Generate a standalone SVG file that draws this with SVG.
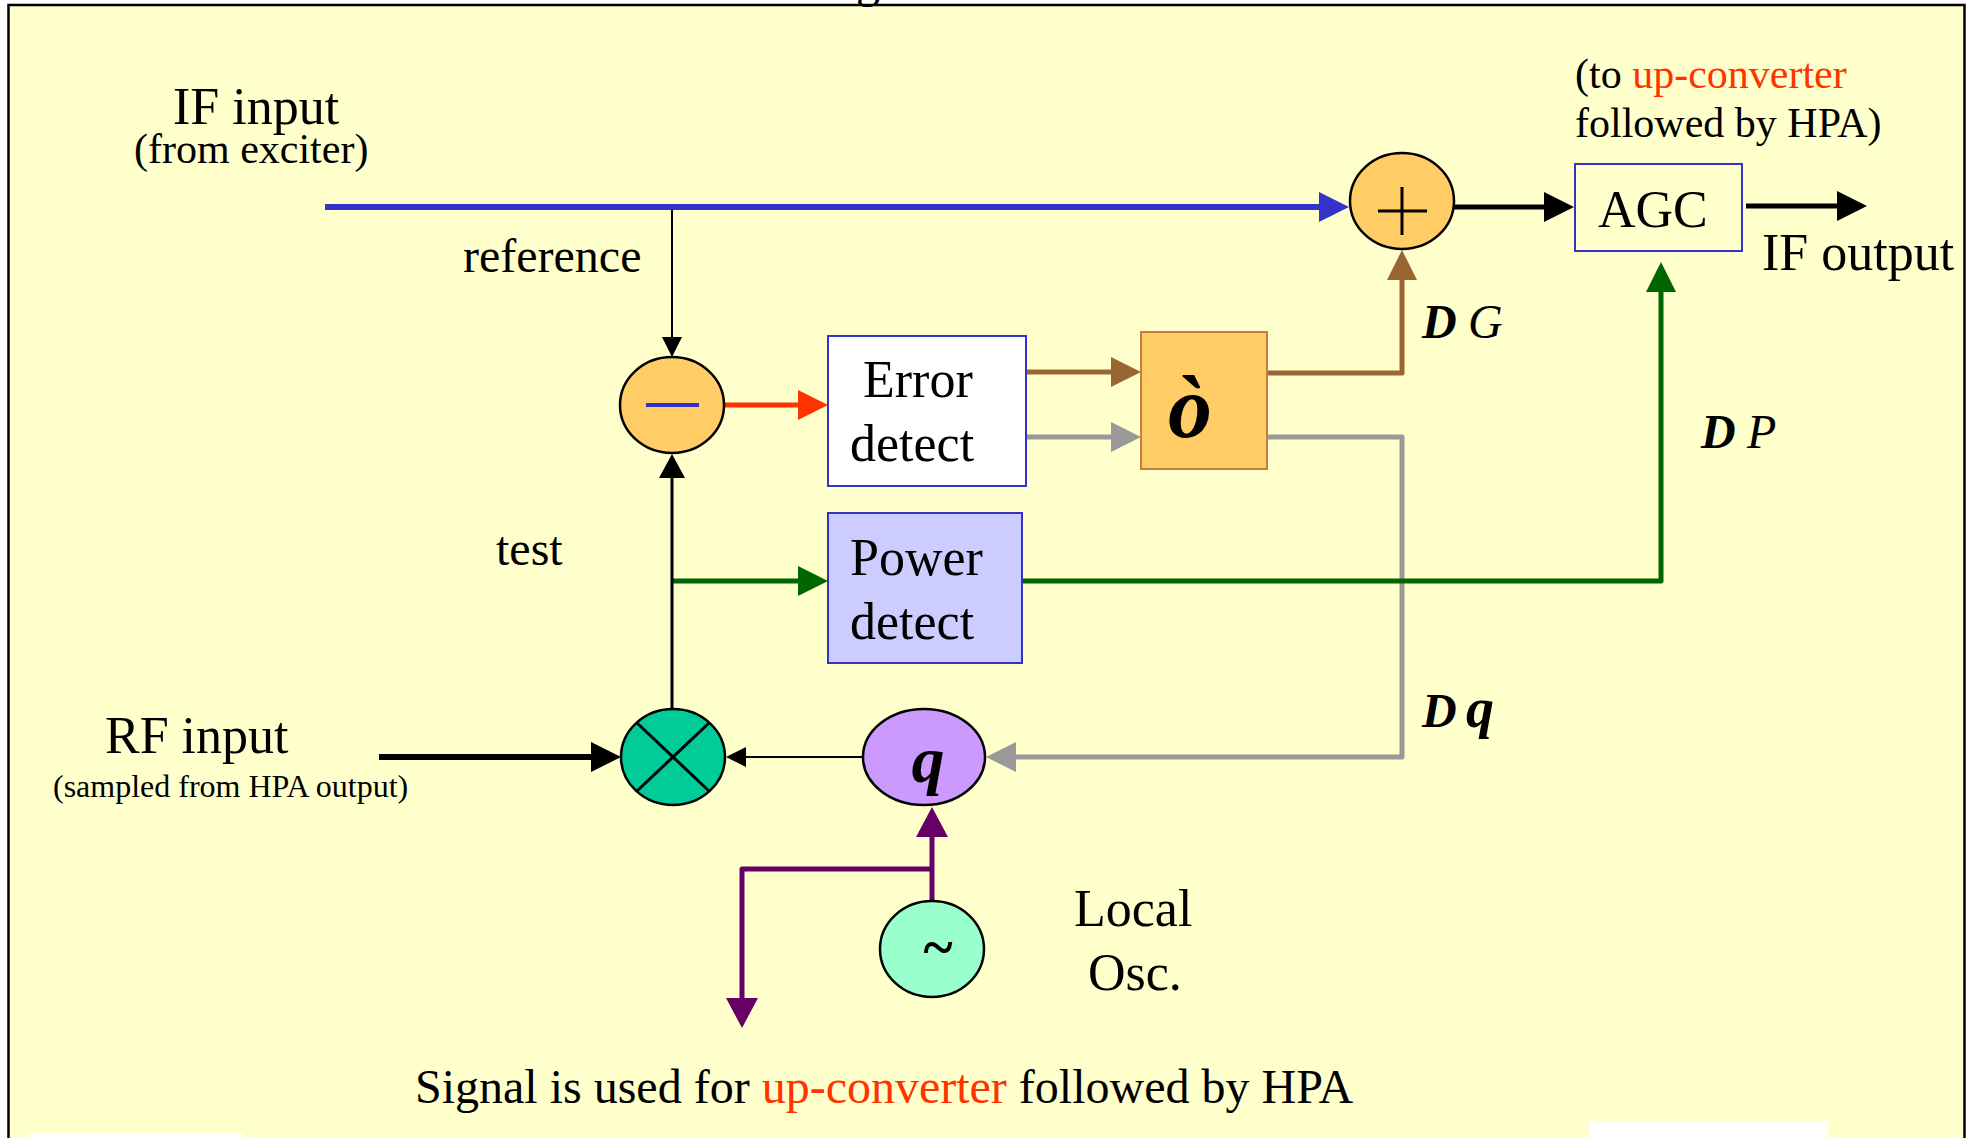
<svg xmlns="http://www.w3.org/2000/svg" width="1978" height="1138" viewBox="0 0 1978 1138">
<style>
text{font-family:"Liberation Serif","Times New Roman",serif;fill:#000}
.t52{font-size:52px}
.t48{font-size:48px}
.t42{font-size:42px}
.t32{font-size:32px}
.red{fill:#FF3300}
.bi{font-weight:bold;font-style:italic}
.it{font-style:italic}
.node{stroke:#000;stroke-width:2.5}
.box{stroke:#3333CC;stroke-width:2}
.conn{fill:none;stroke-linejoin:round}
</style>
<defs>
<marker id="aBlue" markerUnits="userSpaceOnUse" markerWidth="30" markerHeight="30" refX="0" refY="15" orient="auto" overflow="visible"><path d="M0,0 L30,15 L0,30 z" fill="#3333CC"/></marker>
<marker id="aBlack" markerUnits="userSpaceOnUse" markerWidth="30" markerHeight="30" refX="0" refY="15" orient="auto" overflow="visible"><path d="M0,0 L30,15 L0,30 z" fill="#000"/></marker>
<marker id="aBlackMid" markerUnits="userSpaceOnUse" markerWidth="24" markerHeight="26" refX="0" refY="13" orient="auto" overflow="visible"><path d="M0,0 L24,13 L0,26 z" fill="#000"/></marker>
<marker id="aBlackSm" markerUnits="userSpaceOnUse" markerWidth="20" markerHeight="20" refX="0" refY="10" orient="auto" overflow="visible"><path d="M0,0 L20,10 L0,20 z" fill="#000"/></marker>
<marker id="aRed" markerUnits="userSpaceOnUse" markerWidth="30" markerHeight="30" refX="0" refY="15" orient="auto" overflow="visible"><path d="M0,0 L30,15 L0,30 z" fill="#FF3300"/></marker>
<marker id="aBrown" markerUnits="userSpaceOnUse" markerWidth="30" markerHeight="30" refX="0" refY="15" orient="auto" overflow="visible"><path d="M0,0 L30,15 L0,30 z" fill="#996633"/></marker>
<marker id="aGray" markerUnits="userSpaceOnUse" markerWidth="30" markerHeight="30" refX="0" refY="15" orient="auto" overflow="visible"><path d="M0,0 L30,15 L0,30 z" fill="#999999"/></marker>
<marker id="aGreen" markerUnits="userSpaceOnUse" markerWidth="30" markerHeight="30" refX="0" refY="15" orient="auto" overflow="visible"><path d="M0,0 L30,15 L0,30 z" fill="#006600"/></marker>
<marker id="aPurple" markerUnits="userSpaceOnUse" markerWidth="30" markerHeight="32" refX="0" refY="16" orient="auto" overflow="visible"><path d="M0,0 L30,16 L0,32 z" fill="#660066"/></marker>
</defs>

<rect x="0" y="0" width="1978" height="1138" fill="#FFFFFF"/>
<rect id="frame" x="8.5" y="5" width="1956" height="1150" fill="#FFFFCC" stroke="#000" stroke-width="2.5"/>
<text class="t48" x="856" y="-3">g</text>
<rect x="28" y="1133" width="215" height="10" fill="#FFFFFF"/>
<rect x="1589" y="1121" width="239" height="20" fill="#FFFFFF"/>

<g id="connectors" class="conn">
<path d="M325,207 H1319" stroke="#3333CC" stroke-width="6" marker-end="url(#aBlue)"/>
<path d="M672,210 V337" stroke="#000" stroke-width="2" marker-end="url(#aBlackSm)"/>
<path d="M725,405 H798" stroke="#FF3300" stroke-width="5" marker-end="url(#aRed)"/>
<path d="M1026,372 H1111" stroke="#996633" stroke-width="5" marker-end="url(#aBrown)"/>
<path d="M1026,437 H1111" stroke="#999999" stroke-width="5" marker-end="url(#aGray)"/>
<path d="M1267,373 H1402 V280" stroke="#996633" stroke-width="5" marker-end="url(#aBrown)"/>
<path d="M1267,437 H1402 V757 H1016" stroke="#999999" stroke-width="5" marker-end="url(#aGray)"/>
<path d="M1454,207 H1544" stroke="#000" stroke-width="5" marker-end="url(#aBlack)"/>
<path d="M1746,206 H1837" stroke="#000" stroke-width="5" marker-end="url(#aBlack)"/>
<path d="M672,581 H798" stroke="#006600" stroke-width="5" marker-end="url(#aGreen)"/>
<path d="M1022,581 H1661 V292" stroke="#006600" stroke-width="5" marker-end="url(#aGreen)"/>
<path d="M672,709 V478" stroke="#000" stroke-width="3" marker-end="url(#aBlackMid)"/>
<path d="M379,757 H591" stroke="#000" stroke-width="6" marker-end="url(#aBlack)"/>
<path d="M863,757 H746" stroke="#000" stroke-width="2" marker-end="url(#aBlackSm)"/>
<path d="M932,901 V837" stroke="#660066" stroke-width="5" marker-end="url(#aPurple)"/>
<path d="M932,869 H742 V998" stroke="#660066" stroke-width="5" marker-end="url(#aPurple)"/>
</g>

<g id="label-if-input">
<text class="t52" x="173" y="124">IF input</text>
<text class="t42" x="134" y="163">(from exciter)</text>
</g>
<text class="t48" x="463" y="272">reference</text>
<text class="t48" x="496" y="565">test</text>
<g id="label-rf-input">
<text class="t52" x="105" y="753">RF input</text>
<text class="t32" x="53" y="797">(sampled from HPA output)</text>
</g>
<g id="label-to-upconv">
<text class="t42" x="1575" y="88">(to <tspan class="red">up-converter</tspan></text>
<text class="t42" x="1575" y="137">followed by HPA)</text>
</g>
<text class="t52" x="1762" y="270">IF output</text>
<text class="t48" x="1422" y="338"><tspan class="bi">D</tspan><tspan class="it" x="1468">G</tspan></text>
<text class="t48" x="1701" y="448"><tspan class="bi">D</tspan><tspan class="it" x="1747">P</tspan></text>
<text class="t48" x="1422" y="727"><tspan class="bi">D</tspan><tspan class="bi" style="font-size:56px" x="1466">q</tspan></text>
<g id="label-local-osc">
<text class="t52" x="1074" y="926">Local</text>
<text class="t52" x="1088" y="990">Osc.</text>
</g>
<text class="t48" x="415" y="1103">Signal is used for <tspan class="red">up-converter</tspan> followed by HPA</text>

<g id="node-adder">
<ellipse class="node" cx="1402" cy="201" rx="52" ry="48" fill="#FFCC66"/>
<path d="M1402,187 V235 M1378,211 H1427" stroke="#000" stroke-width="3"/>
</g>
<g id="node-agc">
<rect class="box" x="1575" y="164" width="167" height="87" fill="none"/>
<text class="t52" x="1598" y="227">AGC</text>
</g>
<g id="node-subtract">
<ellipse class="node" cx="672" cy="405" rx="52" ry="48" fill="#FFCC66"/>
<path d="M646,405 H699" stroke="#3333CC" stroke-width="4"/>
</g>
<g id="node-error-detect">
<rect class="box" x="828" y="336" width="198" height="150" fill="#FFFFFF"/>
<text class="t52" x="863" y="397">Error</text>
<text class="t52" x="850" y="461">detect</text>
</g>
<g id="node-integrator">
<rect x="1141" y="332" width="126" height="137" fill="#FFCC66" stroke="#C08040" stroke-width="2"/>
<text class="bi" style="font-size:88px" x="1190" y="437" text-anchor="middle">ò</text>
</g>
<g id="node-power-detect">
<rect class="box" x="828" y="513" width="194" height="150" fill="#CCCCFF"/>
<text class="t52" x="850" y="575">Power</text>
<text class="t52" x="850" y="639">detect</text>
</g>
<g id="node-mixer">
<ellipse class="node" cx="673" cy="757" rx="52" ry="48" fill="#00CC99"/>
<path d="M637,723 L709,791 M709,723 L637,791" stroke="#000" stroke-width="3"/>
</g>
<g id="node-phase">
<ellipse class="node" cx="924" cy="757" rx="61" ry="48" fill="#CC99FF"/>
<text class="bi" style="font-size:66px" x="928" y="782" text-anchor="middle">q</text>
</g>
<g id="node-osc">
<ellipse class="node" cx="932" cy="949" rx="52" ry="48" fill="#99FFCC"/>
<text style="font-size:56px;font-weight:bold" x="938" y="966" text-anchor="middle">~</text>
</g>
</svg>
